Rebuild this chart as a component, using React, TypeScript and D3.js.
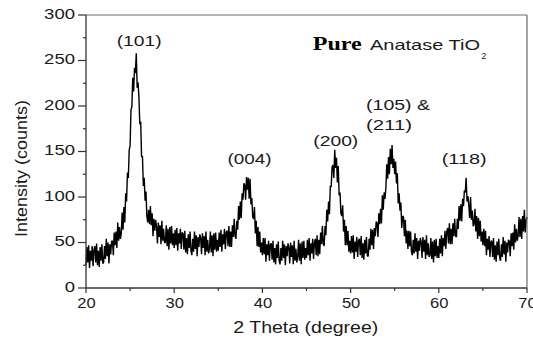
import React from 'react';
import * as d3 from 'd3';

// XRD intensity (counts), 2θ from 20° to 70° in 0.1° steps
const intensity: number[] = [
  25, 45, 28, 47, 22, 41, 30, 46, 24, 42,
  46, 28, 49, 25, 41, 23, 45, 30, 48, 27,
  28, 46, 32, 54, 35, 50, 27, 48, 37, 51,
  52, 36, 61, 47, 62, 44, 72, 52, 67, 54,
  60, 83, 64, 89, 72, 104, 95, 127, 121, 152,
  156, 196, 199, 231, 216, 242, 236, 258, 220, 226,
  210, 180, 183, 144, 145, 112, 121, 96, 106, 79,
  72, 86, 70, 90, 69, 82, 57, 76, 63, 75,
  67, 49, 72, 56, 69, 48, 74, 52, 65, 50,
  50, 69, 46, 65, 42, 67, 49, 68, 47, 60,
  44, 64, 47, 66, 41, 60, 49, 65, 43, 61,
  60, 42, 63, 39, 55, 37, 59, 44, 62, 41,
  36, 54, 40, 62, 43, 58, 35, 56, 45, 59,
  55, 37, 60, 44, 57, 36, 62, 40, 53, 38,
  43, 62, 39, 58, 35, 60, 42, 61, 40, 53,
  41, 61, 45, 64, 40, 59, 48, 65, 43, 61,
  63, 46, 68, 45, 62, 45, 69, 56, 76, 57,
  54, 74, 64, 90, 75, 95, 77, 104, 97, 115,
  113, 97, 122, 108, 121, 98, 120, 92, 99, 78,
  76, 89, 60, 74, 46, 67, 45, 62, 39, 50,
  36, 55, 37, 55, 29, 48, 36, 52, 30, 48,
  49, 31, 52, 28, 44, 26, 48, 33, 51, 30,
  26, 44, 30, 52, 33, 48, 25, 46, 35, 49,
  45, 27, 50, 34, 47, 26, 52, 30, 43, 28,
  34, 53, 30, 49, 26, 51, 33, 52, 31, 44,
  33, 53, 36, 55, 30, 49, 38, 54, 32, 50,
  54, 36, 58, 35, 53, 37, 61, 48, 68, 49,
  46, 68, 58, 86, 73, 95, 81, 112, 111, 133,
  135, 121, 152, 132, 143, 116, 134, 102, 105, 82,
  79, 91, 62, 75, 47, 68, 47, 63, 40, 52,
  38, 57, 39, 58, 32, 51, 40, 56, 34, 52,
  54, 36, 57, 33, 49, 31, 53, 38, 56, 35,
  35, 54, 42, 65, 47, 64, 43, 66, 57, 73,
  71, 56, 82, 70, 87, 71, 102, 86, 105, 98,
  110, 136, 120, 144, 125, 153, 136, 157, 132, 142,
  125, 139, 115, 126, 93, 104, 85, 94, 66, 79,
  78, 57, 75, 49, 63, 43, 63, 46, 62, 40,
  36, 53, 38, 60, 40, 55, 32, 52, 41, 55,
  51, 33, 56, 40, 53, 32, 58, 36, 49, 34,
  36, 55, 32, 51, 28, 53, 35, 54, 33, 46,
  33, 54, 38, 58, 35, 55, 46, 63, 43, 62,
  66, 49, 71, 48, 65, 48, 71, 57, 76, 57,
  56, 76, 65, 90, 74, 92, 73, 98, 90, 107,
  105, 121, 95, 101, 91, 77, 100, 75, 85, 68,
  70, 87, 62, 79, 54, 77, 57, 74, 51, 62,
  47, 65, 46, 63, 36, 54, 42, 57, 34, 51,
  52, 34, 55, 31, 47, 29, 51, 36, 54, 33,
  30, 48, 34, 56, 37, 52, 29, 50, 39, 53,
  51, 35, 60, 46, 61, 42, 70, 50, 65, 52,
  58, 78, 56, 76, 54, 79, 62, 86, 61, 74,
  78,
];
const thetaStart = 20;
const thetaStep = 0.1;

const xTicks = [20, 30, 40, 50, 60, 70];
const xMinorTicks = [25, 35, 45, 55, 65];
const yTicks = [0, 50, 100, 150, 200, 250, 300];
const yMinorTicks = [25, 75, 125, 175, 225, 275];

// Peak labels, anchored in data coordinates (2θ, counts)
const peakLabels = ['(101)', '(004)', '(200)', '(105) &', '(211)', '(118)'];
const peakLabelTheta = [26.03, 38.54, 48.32, 51.75, 51.75, 62.88];
const peakLabelCounts = [266, 136, 156, 195.6, 173.6, 136];
const peakLabelAnchor = ['middle', 'middle', 'middle', 'start', 'start', 'middle'];
const peakLabelWidth = [45, 44, 45, 64, 46, 45];

const xTitle = '2 Theta (degree)';
const yTitle = 'Intensity (counts)';

export default function App() {
  const W = 533;
  const H = 345;
  const x = d3.scaleLinear().domain([20, 70]).range([86, 527]);
  const y = d3.scaleLinear().domain([0, 300]).range([288, 15]);

  const points: [number, number][] = intensity.map((v, i) => [thetaStart + i * thetaStep, v]);
  const line = d3
    .line<[number, number]>()
    .x((d) => x(d[0]))
    .y((d) => y(d[1]));

  const sans = '"Liberation Sans", Arial, sans-serif';
  const textColor = '#1a1a1a';
  const [x0, x1] = x.range();
  const [y0, y1] = y.range();

  return (
    <svg
      width={W}
      height={H}
      style={{ position: 'absolute', left: 0, top: 0, background: '#fff' }}
      fontFamily={sans}
    >
      <rect x={0} y={0} width={W} height={H} fill="#fff" />
      {/* data */}
      <path d={line(points) || ''} fill="none" stroke="#000" strokeWidth={1.4} strokeLinejoin="bevel" />

      {/* frame */}
      <line x1={x0} x2={x1} y1={y1} y2={y1} stroke="#6a6a6a" strokeWidth={1.2} />
      <line x1={x1} x2={x1} y1={y1} y2={y0} stroke="#6a6a6a" strokeWidth={1.2} />
      <line x1={x0} x2={x0} y1={y1} y2={y0} stroke="#333" strokeWidth={1.3} />
      <line x1={x0} x2={x1} y1={y0} y2={y0} stroke="#333" strokeWidth={1.3} />

      {/* y ticks */}
      {yTicks.map((t) => (
        <g key={'y' + t}>
          <line x1={x0 - 8} x2={x0} y1={y(t)} y2={y(t)} stroke="#333" strokeWidth={1.2} />
          <text
            x={75}
            y={y(t) + 3.5}
            textAnchor="end"
            fontSize={14.5}
            fill={textColor}
            textLength={String(t).length * 10.3}
            lengthAdjust="spacingAndGlyphs"
          >
            {t}
          </text>
        </g>
      ))}
      {yMinorTicks.map((t) => (
        <line key={'ym' + t} x1={x0 - 3} x2={x0} y1={y(t)} y2={y(t)} stroke="#333" strokeWidth={1.2} />
      ))}

      {/* x ticks */}
      {xTicks.map((t) => (
        <g key={'x' + t}>
          <line x1={x(t)} x2={x(t)} y1={y0} y2={y0 + 5} stroke="#333" strokeWidth={1.2} />
          <text
            x={x(t) + 0.5}
            y={y0 + 20.3}
            textAnchor="middle"
            fontSize={15}
            fill={textColor}
            textLength={String(t).length * 9.2}
            lengthAdjust="spacingAndGlyphs"
          >
            {t}
          </text>
        </g>
      ))}
      {xMinorTicks.map((t) => (
        <line key={'xm' + t} x1={x(t)} x2={x(t)} y1={y0} y2={y0 + 3} stroke="#333" strokeWidth={1.2} />
      ))}

      {/* axis titles */}
      <text
        x={305.8}
        y={333}
        textAnchor="middle"
        fontSize={16.5}
        fill={textColor}
        textLength={145}
        lengthAdjust="spacingAndGlyphs"
      >
        {xTitle}
      </text>
      <text
        transform="translate(27,168.5) rotate(-90)"
        textAnchor="middle"
        fontSize={16.5}
        fill={textColor}
        textLength={137}
        lengthAdjust="spacingAndGlyphs"
      >
        {yTitle}
      </text>

      {/* peak labels */}
      {peakLabels.map((lab, i) => (
        <text
          key={lab}
          x={x(peakLabelTheta[i])}
          y={y(peakLabelCounts[i])}
          textAnchor={peakLabelAnchor[i] as any}
          fontSize={15}
          fill={textColor}
          textLength={peakLabelWidth[i]}
          lengthAdjust="spacingAndGlyphs"
        >
          {lab}
        </text>
      ))}

      {/* sample title */}
      <text
        x={312.7}
        y={49.5}
        fontFamily='"Liberation Serif", "Times New Roman", serif'
        fontWeight="bold"
        fontSize={19}
        fill="#000"
        textLength={49}
        lengthAdjust="spacingAndGlyphs"
      >
        Pure
      </text>
      <text x={370} y={49.5} fontSize={14.5} fill={textColor} textLength={110} lengthAdjust="spacingAndGlyphs">
        Anatase TiO
      </text>
      <text x={481.5} y={59} fontSize={8.5} fill={textColor}>
        2
      </text>
    </svg>
  );
}
